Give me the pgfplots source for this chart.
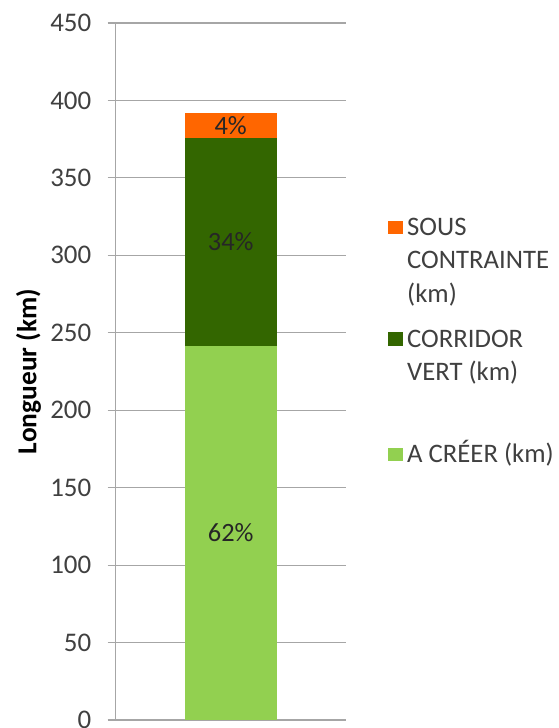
\documentclass[border=0pt]{standalone}
\usepackage{pgfplots}
\pgfplotsset{compat=1.18}
\usepackage{fontspec}
\setmainfont{Carlito}
\definecolor{cOrange}{HTML}{FF6600}
\definecolor{cDark}{HTML}{336600}
\definecolor{cLight}{HTML}{92D050}
\definecolor{gridgray}{HTML}{A6A6A6}
\definecolor{txt}{HTML}{404040}
\definecolor{lbl}{HTML}{262626}
\pgfplotsset{sq legend/.style={legend image code/.code={\fill[##1] (0bp,1.5bp) rectangle (15bp,15bp);}}}
\begin{document}
\begin{tikzpicture}
\begin{axis}[
  scale only axis, width=230bp, height=697bp,
  xmin=-1.25, xmax=1.25, ymin=0, ymax=450,
  ybar stacked, bar width=92bp, bar shift=0pt,
  xtick=\empty,
  ytick={0,50,...,450},
  axis x line*=bottom, axis y line*=left,
  axis line style={draw=gridgray, line width=1.2bp},
  ymajorgrids, grid style={draw=gridgray, line width=1.2bp},
  tick style={draw=gridgray, line width=1.2bp},
  tick align=outside, major tick length=8bp,
  /pgf/number format/assume math mode=true,
  yticklabel style={font=\fontsize{27}{30}\selectfont, text=txt, xshift=-13bp},
  ylabel={Longueur (km)},
  every axis y label/.style={at={(axis description cs:-0.379,0.5)}, rotate=90, anchor=center, font=\fontsize{27.5}{30}\selectfont\bfseries, text=black},
  legend style={at={(axis description cs:1.184,0.7288)}, anchor=north west, draw=none, fill=none, inner sep=0pt, row sep=0bp, column sep=4bp,
    font=\fontsize{26.8}{33.5}\selectfont, text=txt,
    nodes={inner sep=0pt}, cells={anchor=base west}},
  reverse legend,
  nodes near coords style={font=\fontsize{26.5}{30}\selectfont, text=lbl, anchor=center},
]
\addplot[fill=cLight, draw=none, sq legend, nodes near coords={62\%}] coordinates {(0,241.5)};
\addlegendentry{\begin{tabular}[t]{@{}l@{}}\rule{0pt}{114bp}A CRÉER (km)\end{tabular}}
\addplot[fill=cDark, draw=none, sq legend, nodes near coords={34\%}] coordinates {(0,134.5)};
\addlegendentry{\begin{tabular}[t]{@{}l@{}}\rule{0pt}{110bp}CORRIDOR\\VERT (km)\end{tabular}}
\addplot[fill=cOrange, draw=none, sq legend, nodes near coords={4\%}] coordinates {(0,15.8)};
\addlegendentry{\begin{tabular}[t]{@{}l@{}}SOUS\\CONTRAINTE\\(km)\end{tabular}}
\coordinate (bl) at (rel axis cs:0,0);
\coordinate (tr) at (rel axis cs:1,1);
\end{axis}
\pgfresetboundingbox
\useasboundingbox ([xshift=-115.7bp,yshift=-8bp]bl) rectangle ([xshift=213.3bp,yshift=23bp]tr);
\end{tikzpicture}
\end{document}
